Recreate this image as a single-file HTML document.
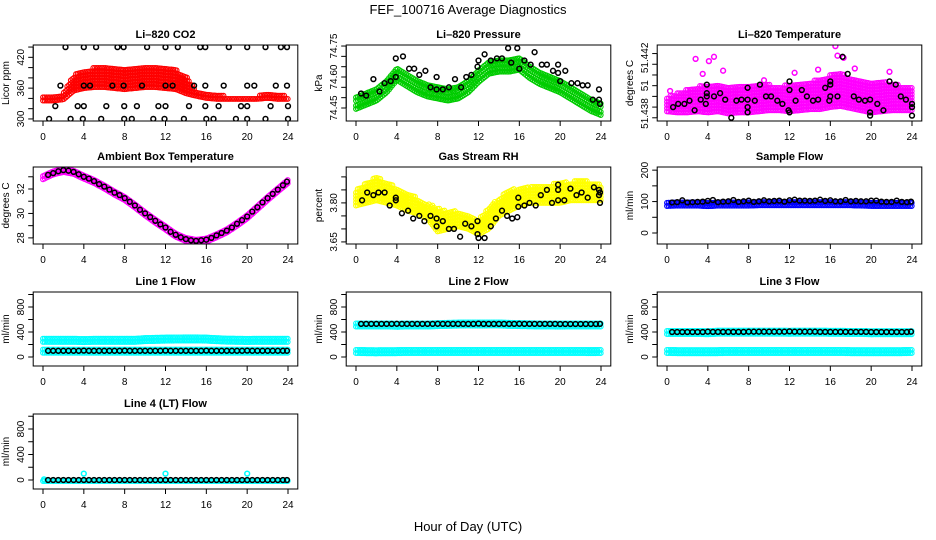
<!DOCTYPE html>
<html><head><meta charset="utf-8"><style>
html,body{margin:0;padding:0;background:#fff;}
svg{display:block;font-family:"Liberation Sans",sans-serif;}
</style></head><body>
<svg id="chart" width="936" height="540" viewBox="0 0 936 540">
<text x="468" y="14" text-anchor="middle" font-size="13">FEF_100716  Average Diagnostics</text>
<text x="468" y="531" text-anchor="middle" font-size="13">Hour of Day (UTC)</text>
</svg>
<script>
// ---------- data ----------
const BX=[0.5,1,1.5,2,2.5,3,3.5,4,4.5,5,5.5,6,6.5,7,7.5,8,8.5,9,9.5,10,10.5,11,11.5,12,12.5,13,13.5,14,14.5,15,15.5,16,16.5,17,17.5,18,18.5,19,19.5,20,20.5,21,21.5,22,22.5,23,23.5,23.9];
const XTICKS=[0,4,8,12,16,20,24];

const co2Lo=[336,336,338,355,360,362,362,360,358,360,362,362,360,358,350,345,341,339,339,339,339,339,341,339,339];
const co2Hi=[344,344,350,385,395,400,400,398,397,400,402,400,398,396,385,355,350,346,345,345,345,345,348,346,345];
const co2BX=[2.2,4.0,5.2,7.3,7.9,10.2,12.0,13.2,15.4,15.9,18.2,20.0,21.8,23.3,23.9,1.7,4.0,4.6,6.8,7.9,9.7,12.0,12.7,14.8,15.9,17.7,20.0,20.7,22.8,23.9,1.2,3.4,4.0,6.2,7.95,9.2,11.3,12.0,14.3,15.9,17.2,19.4,20.0,22.3,24.0,0.6,2.7,3.9,5.7,7.95,8.7,10.8,11.9,13.8,16.0,16.7,18.9,20.0,21.8,24.0];
const co2BY=[440,440,440,440,440,440,440,440,440,440,440,440,440,440,440,365,365,365,365,365,365,365,365,365,365,365,365,365,365,365,325,325,325,325,325,325,325,325,325,325,325,325,325,325,325,300,300,300,300,300,300,300,300,300,300,300,300,300,300,300];

const presUpper=[74.50,74.52,74.54,74.58,74.64,74.61,74.58,74.56,74.55,74.54,74.55,74.58,74.63,74.67,74.68,74.68,74.69,74.65,74.62,74.60,74.58,74.55,74.52,74.49,74.47];
const presLower=[74.46,74.48,74.50,74.54,74.60,74.57,74.54,74.52,74.51,74.50,74.51,74.54,74.59,74.63,74.64,74.64,74.65,74.61,74.58,74.56,74.54,74.51,74.48,74.45,74.43];
const presBX=[0.5,1.0,1.7,2.3,2.8,3.4,3.9,3.9,4.6,5.2,5.7,6.2,6.8,7.3,7.9,7.9,8.5,9.1,9.7,10.3,10.8,11.3,11.9,12.0,12.6,13.2,13.8,14.3,14.9,15.2,15.8,16.0,16.5,17.1,17.5,18.2,18.7,19.3,19.8,19.8,20.0,20.5,21.1,21.7,22.2,22.7,23.2,23.8,23.8,23.9];
const presBY=[74.52,74.51,74.59,74.53,74.57,74.58,74.60,74.69,74.70,74.64,74.64,74.61,74.63,74.55,74.60,74.54,74.54,74.55,74.59,74.55,74.60,74.61,74.65,74.68,74.71,74.68,74.69,74.69,74.74,74.67,74.74,74.64,74.68,74.66,74.72,74.66,74.66,74.63,74.62,74.66,74.58,74.63,74.57,74.57,74.56,74.56,74.49,74.49,74.54,74.47];

const tempLo=[51.4376,51.4375,51.4375,51.4376,51.4375,51.4376,51.4374,51.4375,51.4375,51.4376,51.4377,51.4377,51.4376,51.4377,51.4378,51.4378,51.4380,51.4381,51.4379,51.4377,51.4375,51.4376,51.4377,51.4377,51.4377];
const tempHi=[51.4390,51.4393,51.4397,51.4399,51.4402,51.4401,51.4400,51.4399,51.4400,51.4401,51.4401,51.4400,51.4401,51.4402,51.4404,51.4406,51.4410,51.4412,51.4407,51.4405,51.4404,51.4404,51.4403,51.4400,51.4398];
const tempOutX=[2.8,4.1,4.6,5.5,16.5,16.7,17.3,18.4,12.5,14.8,21.8,3.5,9.5,0.3];
const tempOutY=[51.4425,51.4423,51.4427,51.4414,51.4437,51.4428,51.4426,51.4416,51.4412,51.4415,51.4413,51.4411,51.4405,51.4395];
const tempBX=[0.6,1.1,1.7,2.2,2.7,3.3,3.8,3.9,3.9,3.9,4.6,5.2,5.7,6.3,6.8,7.3,7.9,7.9,7.9,7.9,8.6,9.1,9.7,10.2,10.8,11.3,11.9,12,12,12,12.6,13.2,13.7,14.3,14.8,15.5,15.9,16,16,16,16.7,17.2,17.7,18.3,18.8,19.4,19.9,19.9,19.9,20.6,21.2,21.8,22.4,22.9,23.4,24,24,24];
const tempBY=[51.4380,51.4383,51.4383,51.4386,51.4377,51.4387,51.4383,51.4393,51.4401,51.4390,51.4390,51.4393,51.4387,51.4370,51.4386,51.4387,51.4387,51.4380,51.4375,51.4398,51.4386,51.4401,51.4390,51.4390,51.4386,51.4383,51.4377,51.4375,51.4396,51.4404,51.4386,51.4396,51.4390,51.4386,51.4387,51.4398,51.4386,51.4404,51.4401,51.4390,51.4390,51.4427,51.4411,51.4390,51.4387,51.4386,51.4387,51.4375,51.4372,51.4383,51.4377,51.4404,51.4401,51.4390,51.4387,51.4383,51.4380,51.4372];

const ambLine=[32.96,33.35,33.55,33.4,33.0,32.65,32.2,31.7,31.25,30.65,30.0,29.4,28.85,28.25,27.9,27.75,27.85,28.2,28.6,29.15,29.75,30.5,31.25,31.95,32.65];
const ambBY=[33.15,33.3,33.45,33.55,33.5,33.4,33.2,33.0,32.85,32.65,32.4,32.2,31.95,31.7,31.5,31.25,30.95,30.65,30.3,30.0,29.7,29.4,29.1,28.85,28.5,28.25,28.05,27.9,27.8,27.75,27.8,27.85,28.0,28.2,28.4,28.6,28.85,29.15,29.45,29.75,30.15,30.5,30.9,31.25,31.6,31.95,32.3,32.6];

const rhLo=[3.79,3.80,3.81,3.80,3.79,3.77,3.76,3.74,3.69,3.70,3.71,3.70,3.68,3.70,3.75,3.77,3.79,3.80,3.80,3.80,3.80,3.81,3.81,3.81,3.81];
const rhHi=[3.85,3.88,3.90,3.88,3.86,3.84,3.82,3.80,3.78,3.77,3.77,3.76,3.74,3.78,3.82,3.85,3.86,3.86,3.87,3.87,3.88,3.88,3.89,3.88,3.87];
const rhBX=[0.6,1.1,1.7,2.2,2.8,3.3,3.9,3.9,4.5,5.1,5.6,6.2,6.7,7.3,7.9,7.9,8.5,9.1,9.6,10.2,10.7,11.3,11.9,11.9,12.0,12.6,13.2,13.7,14.3,14.8,15.3,15.8,15.9,15.9,16.5,17.0,17.6,18.1,18.7,19.2,19.8,19.8,19.8,20.4,21.0,21.6,22.1,22.7,23.3,23.8,23.8,23.9,23.9];
const rhBY=[3.81,3.84,3.83,3.84,3.84,3.79,3.81,3.82,3.76,3.77,3.74,3.75,3.73,3.75,3.74,3.71,3.73,3.70,3.70,3.67,3.72,3.71,3.73,3.68,3.665,3.665,3.71,3.74,3.77,3.75,3.74,3.745,3.785,3.82,3.79,3.80,3.79,3.83,3.85,3.80,3.81,3.85,3.87,3.81,3.855,3.83,3.84,3.82,3.86,3.85,3.83,3.80,3.84];

const sampLo=[86,87,87,87,85,87,87,87,87,88,88,88,88,88,88,88,88,88,88,87,86,86,86,86,86];
const sampHi=[100,100,101,101,102,101,101,101,103,103,103,103,104,104,104,104,104,104,103,103,103,102,102,102,102];
const sampBY=[97,98,104,97,98,99,100,102,105,98,100,101,105,99,101,103,99,101,104,101,102,103,100,104,106,103,103,102,103,106,102,104,101,101,105,101,102,101,101,103,103,100,99,99,103,99,98,100];

const l1Upper=[290,290,290,290,285,290,290,290,290,290,300,305,308,310,312,312,308,300,292,290,288,290,290,290,290];
const l1Lower=[100,100,100,100,100,100,100,100,100,100,100,100,100,100,100,100,100,100,100,100,100,100,100,100,100];
const l1BY=[100,100,100,100,100,100,100,102,100,100,100,100,100,100,100,102,100,100,100,100,100,100,100,102,100,100,100,100,100,100,100,102,100,100,100,100,100,100,100,102,100,100,100,100,100,100,100,100];

const l2Upper=[535,535,535,535,530,535,535,535,540,545,548,550,548,550,550,545,540,538,535,535,532,535,535,535,535];
const l2Lower=[95,92,90,92,92,95,95,95,95,95,95,95,95,95,95,95,95,95,95,95,95,95,95,92,95];
const l2BY=[530,530,530,530,530,530,530,532,530,530,530,530,530,530,530,532,530,530,530,530,530,530,530,534,530,530,530,530,530,530,530,532,530,530,530,530,530,530,530,528,528,528,528,528,528,528,528,530];

const l3Upper=[415,415,415,415,410,420,420,420,420,420,420,420,418,420,420,420,418,418,415,415,410,412,412,412,412];
const l3Lower=[95,92,92,92,92,92,95,95,95,95,95,95,95,95,95,95,95,95,92,92,92,92,92,92,95];
const l3BY=[400,400,400,400,400,400,400,405,402,402,402,402,402,402,402,405,405,405,405,405,405,405,405,410,405,405,405,405,405,402,402,402,402,402,402,402,402,402,402,400,400,400,400,400,400,400,400,405];

const l4Line=[0,0,0,0,0,0,0,0,0,0,0,0,0,0,0,0,0,0,0,0,0,0,0,0,0];
const l4SpikeX=[4,12,20,0.1];
const l4SpikeY=[100,100,100,10];
const l4BY=[0,0,0,0,0,0,0,0,0,0,0,0,0,0,0,0,0,0,0,0,0,0,0,0,0,0,0,0,0,0,0,0,0,0,0,0,0,0,0,0,0,0,0,0,0,0,0,0];

// ---------- drawing ----------
const NS="http://www.w3.org/2000/svg";
const svg=document.getElementById('chart');
const COLX=[43,356,667];
const ROWS=[[45,121],[167,244],[292,366],[414,489]];
function el(tag,attrs,parent){const e=document.createElementNS(NS,tag);for(const k in attrs)e.setAttribute(k,attrs[k]);(parent||svg).appendChild(e);return e;}
function interp(arr,h){const i=Math.min(Math.floor(h),23);const f=h-i;return arr[i]*(1-f)+arr[i+1]*f;}

function makePanel(o){
  const x0=COLX[o.col],top=ROWS[o.row][0],bot=ROWS[o.row][1];
  const left=x0-9.8,right=x0+254.8;
  const p={sx:h=>x0+h*245/24,sy:v=>bot-(v-o.ymin)/(o.ymax-o.ymin)*(bot-top)};
  const g=el('g',{});
  
  
  const cid='clip-'+o.name;
  const cp=el('clipPath',{id:cid},g);
  el('rect',{x:left,y:top,width:right-left,height:bot-top},cp);
  p.marks=el('g',{'clip-path':'url(#'+cid+')'},g);
  
  
  p.g=g;p.o=o;p.top=top;p.bot=bot;p.left=left;p.right=right;
  return p;
}
function finishPanel(p){
  const o=p.o,g=p.g;
  const box=el('rect',{x:p.left,y:p.top,width:p.right-p.left,height:p.bot-p.top,fill:'none',stroke:'#000','stroke-width':1},g);
  
  
  const t=el('text',{x:(p.left+p.right)/2,y:p.top-7,'text-anchor':'middle','font-size':11,'font-weight':'bold'},g);
  t.textContent=o.title;
  
  
  const xa=el('g',{},g);
  
  
  el('line',{x1:p.sx(0),x2:p.sx(24),y1:p.bot,y2:p.bot,stroke:'#000'},xa);
  XTICKS.forEach(h=>{
    el('line',{x1:p.sx(h),x2:p.sx(h),y1:p.bot,y2:p.bot+5,stroke:'#000'},xa);
    const tl=el('text',{x:p.sx(h),y:p.bot+19,'text-anchor':'middle','font-size':10},xa);
    tl.textContent=h;
    
    
  });
  const ya=el('g',{},g);
  
  
  el('line',{x1:p.left,x2:p.left,y1:p.sy(o.ticks[0]),y2:p.sy(o.ticks[o.ticks.length-1]),stroke:'#000'},ya);
  o.ticks.forEach(v=>el('line',{x1:p.left-5,x2:p.left,y1:p.sy(v),y2:p.sy(v),stroke:'#000'},ya));
  o.labels.forEach((v,i)=>{
    const y=p.sy(v),x=p.left-9;
    const tl=el('text',{x:x,y:y,'text-anchor':'middle','font-size':10,transform:'rotate(-90 '+x+' '+y+')'},ya);
    tl.textContent=o.labelText?o.labelText[i]:v;
    
    
  });
  const yx=p.left-24,yy=(p.top+p.bot)/2;
  const yt=el('text',{x:yx,y:yy,'text-anchor':'middle','font-size':10,transform:'rotate(-90 '+yx+' '+yy+')'},g);
  yt.textContent=o.ylab;
  
  
}
function circ(p,h,v,color,sw){
  const c=el('circle',{cx:p.sx(h).toFixed(1),cy:p.sy(v).toFixed(1),r:2.4,fill:'none',stroke:color,'stroke-width':sw||1.3},p.marks);
  
  
}
function band(p,lo,hi,color,pad){
  for(let h=0;h<=24.001;h+=0.17){
    const a=p.sy(interp(lo,h))+(pad||0),b=p.sy(interp(hi,h))-(pad||0);
    const y1=Math.max(a,b),y2=Math.min(a,b);
    for(let y=y1;y>=y2-0.01;y-=3.2){
      const c=el('circle',{cx:p.sx(h).toFixed(1),cy:y.toFixed(1),r:2.4,fill:'none',stroke:color,'stroke-width':1.1},p.marks);
      
      
    }
  }
}
function pts(p,xs,ys,color){xs.forEach((h,i)=>circ(p,h,ys[i],color,1.5));}
function range(a,b,s){const r=[];for(let v=a;v<=b+s/1000;v+=s)r.push(+v.toFixed(6));return r;}

let p=makePanel({name:'co2',col:0,row:0,title:'Li\u2013820 CO2',ylab:'Licor ppm',ymin:296,ymax:444,ticks:range(300,440,20),labels:[300,360,420]});
band(p,co2Lo,co2Hi,'#ff0000');pts(p,co2BX,co2BY,'#000');finishPanel(p);

p=makePanel({name:'pressure',col:1,row:0,title:'Li\u2013820 Pressure',ylab:'kPa',ymin:74.387,ymax:74.755,ticks:range(74.45,74.75,0.05),labels:[74.45,74.60,74.75],labelText:['74.45','74.60','74.75']});
band(p,presUpper,presUpper,'#00cc00',3);band(p,presLower,presLower,'#00cc00',3);pts(p,presBX,presBY,'#000');finishPanel(p);

p=makePanel({name:'li820-temperature',col:2,row:0,title:'Li\u2013820 Temperature',ylab:'degrees C',ymin:51.4367,ymax:51.4438,ticks:range(51.437,51.443,0.001),labels:[51.4374,51.4400,51.4426],labelText:['51.438','51','51.442']});
band(p,tempLo,tempHi,'#ff00ff');pts(p,tempOutX,tempOutY,'#ff00ff');pts(p,tempBX,tempBY,'#000');finishPanel(p);

p=makePanel({name:'ambient-temperature',col:0,row:1,title:'Ambient Box Temperature',ylab:'degrees C',ymin:27.5,ymax:33.8,ticks:range(28,33,1),labels:[28,30,32]});
band(p,ambLine,ambLine,'#ff00ff',2);pts(p,BX,ambBY,'#000');finishPanel(p);

p=makePanel({name:'gas-stream-rh',col:1,row:1,title:'Gas Stream RH',ylab:'percent',ymin:3.642,ymax:3.938,ticks:range(3.65,3.90,0.05),labels:[3.65,3.80],labelText:['3.65','3.80']});
band(p,rhLo,rhHi,'#ffff00');pts(p,rhBX,rhBY,'#000');finishPanel(p);

p=makePanel({name:'sample-flow',col:2,row:1,title:'Sample Flow',ylab:'ml/min',ymin:-35,ymax:210,ticks:range(0,200,50),labels:[0,100,200]});
band(p,sampLo,sampHi,'#0000ff');pts(p,BX,sampBY,'#000');finishPanel(p);

const flowY={ymin:-144,ymax:1040,ticks:range(0,1000,200),labels:[0,400,800]};
p=makePanel(Object.assign({name:'line1-flow',col:0,row:2,title:'Line 1 Flow',ylab:'ml/min'},flowY));
band(p,l1Upper,l1Upper,'#00ffff',3);band(p,l1Lower,l1Lower,'#00ffff',2);pts(p,BX,l1BY,'#000');finishPanel(p);
p=makePanel(Object.assign({name:'line2-flow',col:1,row:2,title:'Line 2 Flow',ylab:'ml/min'},flowY));
band(p,l2Upper,l2Upper,'#00ffff',3);band(p,l2Lower,l2Lower,'#00ffff',2);pts(p,BX,l2BY,'#000');finishPanel(p);
p=makePanel(Object.assign({name:'line3-flow',col:2,row:2,title:'Line 3 Flow',ylab:'ml/min'},flowY));
band(p,l3Upper,l3Upper,'#00ffff',3);band(p,l3Lower,l3Lower,'#00ffff',2);pts(p,BX,l3BY,'#000');finishPanel(p);
p=makePanel(Object.assign({name:'line4-flow',col:0,row:3,title:'Line 4 (LT) Flow',ylab:'ml/min'},{ymin:-141,ymax:1035,ticks:range(0,1000,200),labels:[0,400,800]}));
band(p,l4Line,l4Line,'#00ffff',1);pts(p,l4SpikeX,l4SpikeY,'#00ffff');pts(p,BX,l4BY,'#000');finishPanel(p);
</script>
</body></html>
